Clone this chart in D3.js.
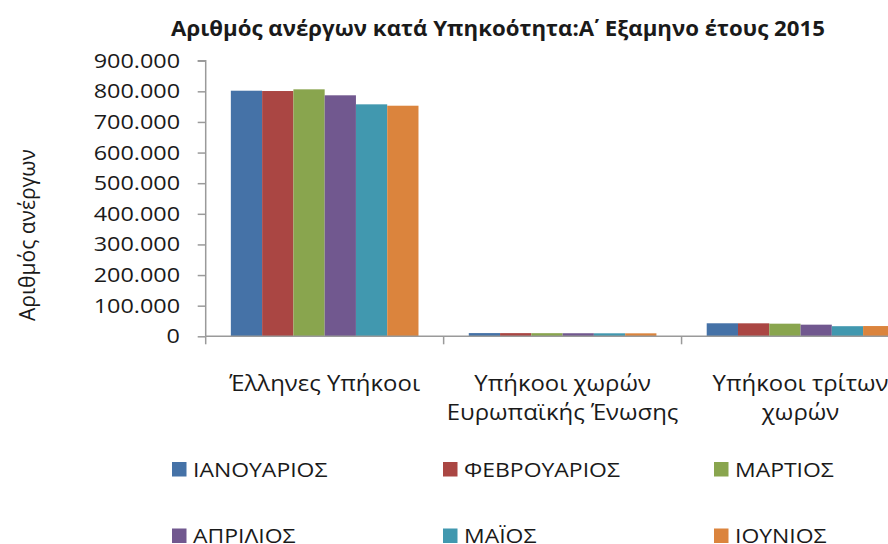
<!DOCTYPE html>
<html>
<head>
<meta charset="utf-8">
<script src="https://cdn.jsdelivr.net/npm/d3@7"></script>
<style>
  html, body { margin: 0; padding: 0; background: #fff; }
  svg { display: block; }
  text { font-family: "Open Sans", "Noto Sans", sans-serif; fill: #1a1a1a; }
</style>
</head>
<body>
<svg id="chart" width="888" height="544"></svg>
<script>
// Chart data: unemployed people by citizenship, first half of 2015
const categories = ["Έλληνες Υπήκοοι", "Υπήκοοι χωρών Ευρωπαϊκής Ένωσης", "Υπήκοοι τρίτων χωρών"];
const categoryLines = [["Έλληνες Υπήκοοι"], ["Υπήκοοι χωρών", "Ευρωπαϊκής Ένωσης"], ["Υπήκοοι τρίτων", "χωρών"]];
const months = ["ΙΑΝΟΥΑΡΙΟΣ", "ΦΕΒΡΟΥΑΡΙΟΣ", "ΜΑΡΤΙΟΣ", "ΑΠΡΙΛΙΟΣ", "ΜΑΪΟΣ", "ΙΟΥΝΙΟΣ"];
const januaryValues  = [802000, 10500, 42500];
const februaryValues = [801000, 10400, 42400];
const marchValues    = [806500, 10200, 41200];
const aprilValues    = [787000, 10000, 38000];
const mayValues      = [757500,  9800, 33000];
const juneValues     = [753000,  9700, 33500];
const yTicks = [0, 100000, 200000, 300000, 400000, 500000, 600000, 700000, 800000, 900000];
// Title pieces: the Greek ordinal mark is set as its own run so it can be spaced
const titleParts = ["Αριθμός ανέργων κατά Υπηκοότητα:Α", "΄", "Εξαμηνο έτους 2015"];
const yAxisTitle = "Αριθμός ανέργων";

const seriesValues = [januaryValues, februaryValues, marchValues, aprilValues, mayValues, juneValues];
const colors = ["#4572A7", "#AA4643", "#89A54E", "#71588F", "#4198AF", "#DB843D"];

const svg = d3.select("#chart");
const plot = { left: 205.7, right: 919.5, top: 60.7, bottom: 336.3 };
const axisColor = "#9a9a9a";

// Greek number formatting: dot as thousands separator
const grLocale = d3.formatLocale({ decimal: ",", thousands: ".", grouping: [3], currency: ["", " €"] });
const fmt = grLocale.format(",d");

const y = d3.scaleLinear().domain([0, 900000]).range([plot.bottom, plot.top]);
const x = d3.scaleBand().domain(categories).range([plot.left, plot.right])
  .paddingInner(0.2114).paddingOuter(0.1057);
const xs = d3.scaleBand().domain(months).range([0, x.bandwidth()]).padding(0);

// Helper: text with optional horizontal stretch about its anchor point
function label(parent, tx, ty, str, opts) {
  const k = opts.stretch || 1;
  const g = parent.append("g").attr("transform", `translate(${tx},${ty}) scale(${k},1)`);
  const t = g.append("text")
    .attr("text-anchor", opts.anchor || "start")
    .style("font-size", opts.size + "px")
    .style("font-weight", opts.weight || 400);
  if (str !== null) t.text(str);
  return t;
}

// Bars
const groups = svg.append("g").selectAll("g")
  .data(categories)
  .join("g")
  .attr("transform", d => `translate(${x(d)},0)`);

groups.selectAll("rect")
  .data((d, ci) => months.map((m, si) => ({ month: m, value: seriesValues[si][ci], color: colors[si] })))
  .join("rect")
  .attr("x", d => xs(d.month))
  .attr("width", xs.bandwidth())
  .attr("y", d => y(d.value))
  .attr("height", d => plot.bottom - y(d.value))
  .attr("fill", d => d.color);

// Y axis
const yAxis = svg.append("g")
  .attr("transform", `translate(${plot.left},0)`)
  .call(d3.axisLeft(y).tickValues(yTicks).tickSize(8).tickFormat(() => ""));
yAxis.select(".domain").attr("stroke", axisColor).attr("stroke-width", 1.5)
  .attr("d", `M-8,${plot.top}H0V${plot.bottom}`);
yAxis.selectAll(".tick line").attr("stroke", axisColor).attr("stroke-width", 1.5);

yTicks.forEach(v => {
  label(svg, 180, y(v) + 7, fmt(v), { size: 19.5, anchor: "end", stretch: 1.2 });
});

// X axis: Excel-style tick marks between categories
const xAxis = svg.append("g");
xAxis.append("line")
  .attr("x1", plot.left).attr("x2", plot.right)
  .attr("y1", plot.bottom).attr("y2", plot.bottom)
  .attr("stroke", axisColor).attr("stroke-width", 1.5);
const step = x.step();
d3.range(categories.length + 1).forEach(i => {
  const tx = plot.left + i * step;
  xAxis.append("line")
    .attr("x1", tx).attr("x2", tx)
    .attr("y1", plot.bottom).attr("y2", plot.bottom + 8)
    .attr("stroke", axisColor).attr("stroke-width", 1.5);
});

// Category labels
categories.forEach((c, i) => {
  const cx = x(c) + x.bandwidth() / 2;
  categoryLines[i].forEach((line, j) => {
    label(svg, cx, 391 + j * 29, line, { size: 21, anchor: "middle", stretch: 1.14 });
  });
});

// Title
const title = label(svg, 498, 36, null, { size: 21, anchor: "middle", weight: 700, stretch: 1.06 });
title.append("tspan").text(titleParts[0]);
title.append("tspan").attr("dx", -4).text(titleParts[1]);
title.append("tspan").attr("dx", 14).text(titleParts[2]);

// Y axis title
svg.append("text")
  .attr("transform", `translate(35,235) rotate(-90)`)
  .attr("text-anchor", "middle")
  .style("font-size", "21px")
  .text(yAxisTitle);

// Legend: 3 columns x 2 rows
const legend = svg.append("g");
months.forEach((m, i) => {
  const col = i % 3, row = Math.floor(i / 3);
  const lx = 172 + col * 271, ly = 462 + row * 66.5;
  legend.append("rect")
    .attr("x", lx).attr("y", ly)
    .attr("width", 14.5).attr("height", 14.5)
    .attr("fill", colors[i]);
  label(legend, lx + 21, ly + 14.5, m, { size: 20.5, stretch: 1.12 });
});
</script>
</body>
</html>
